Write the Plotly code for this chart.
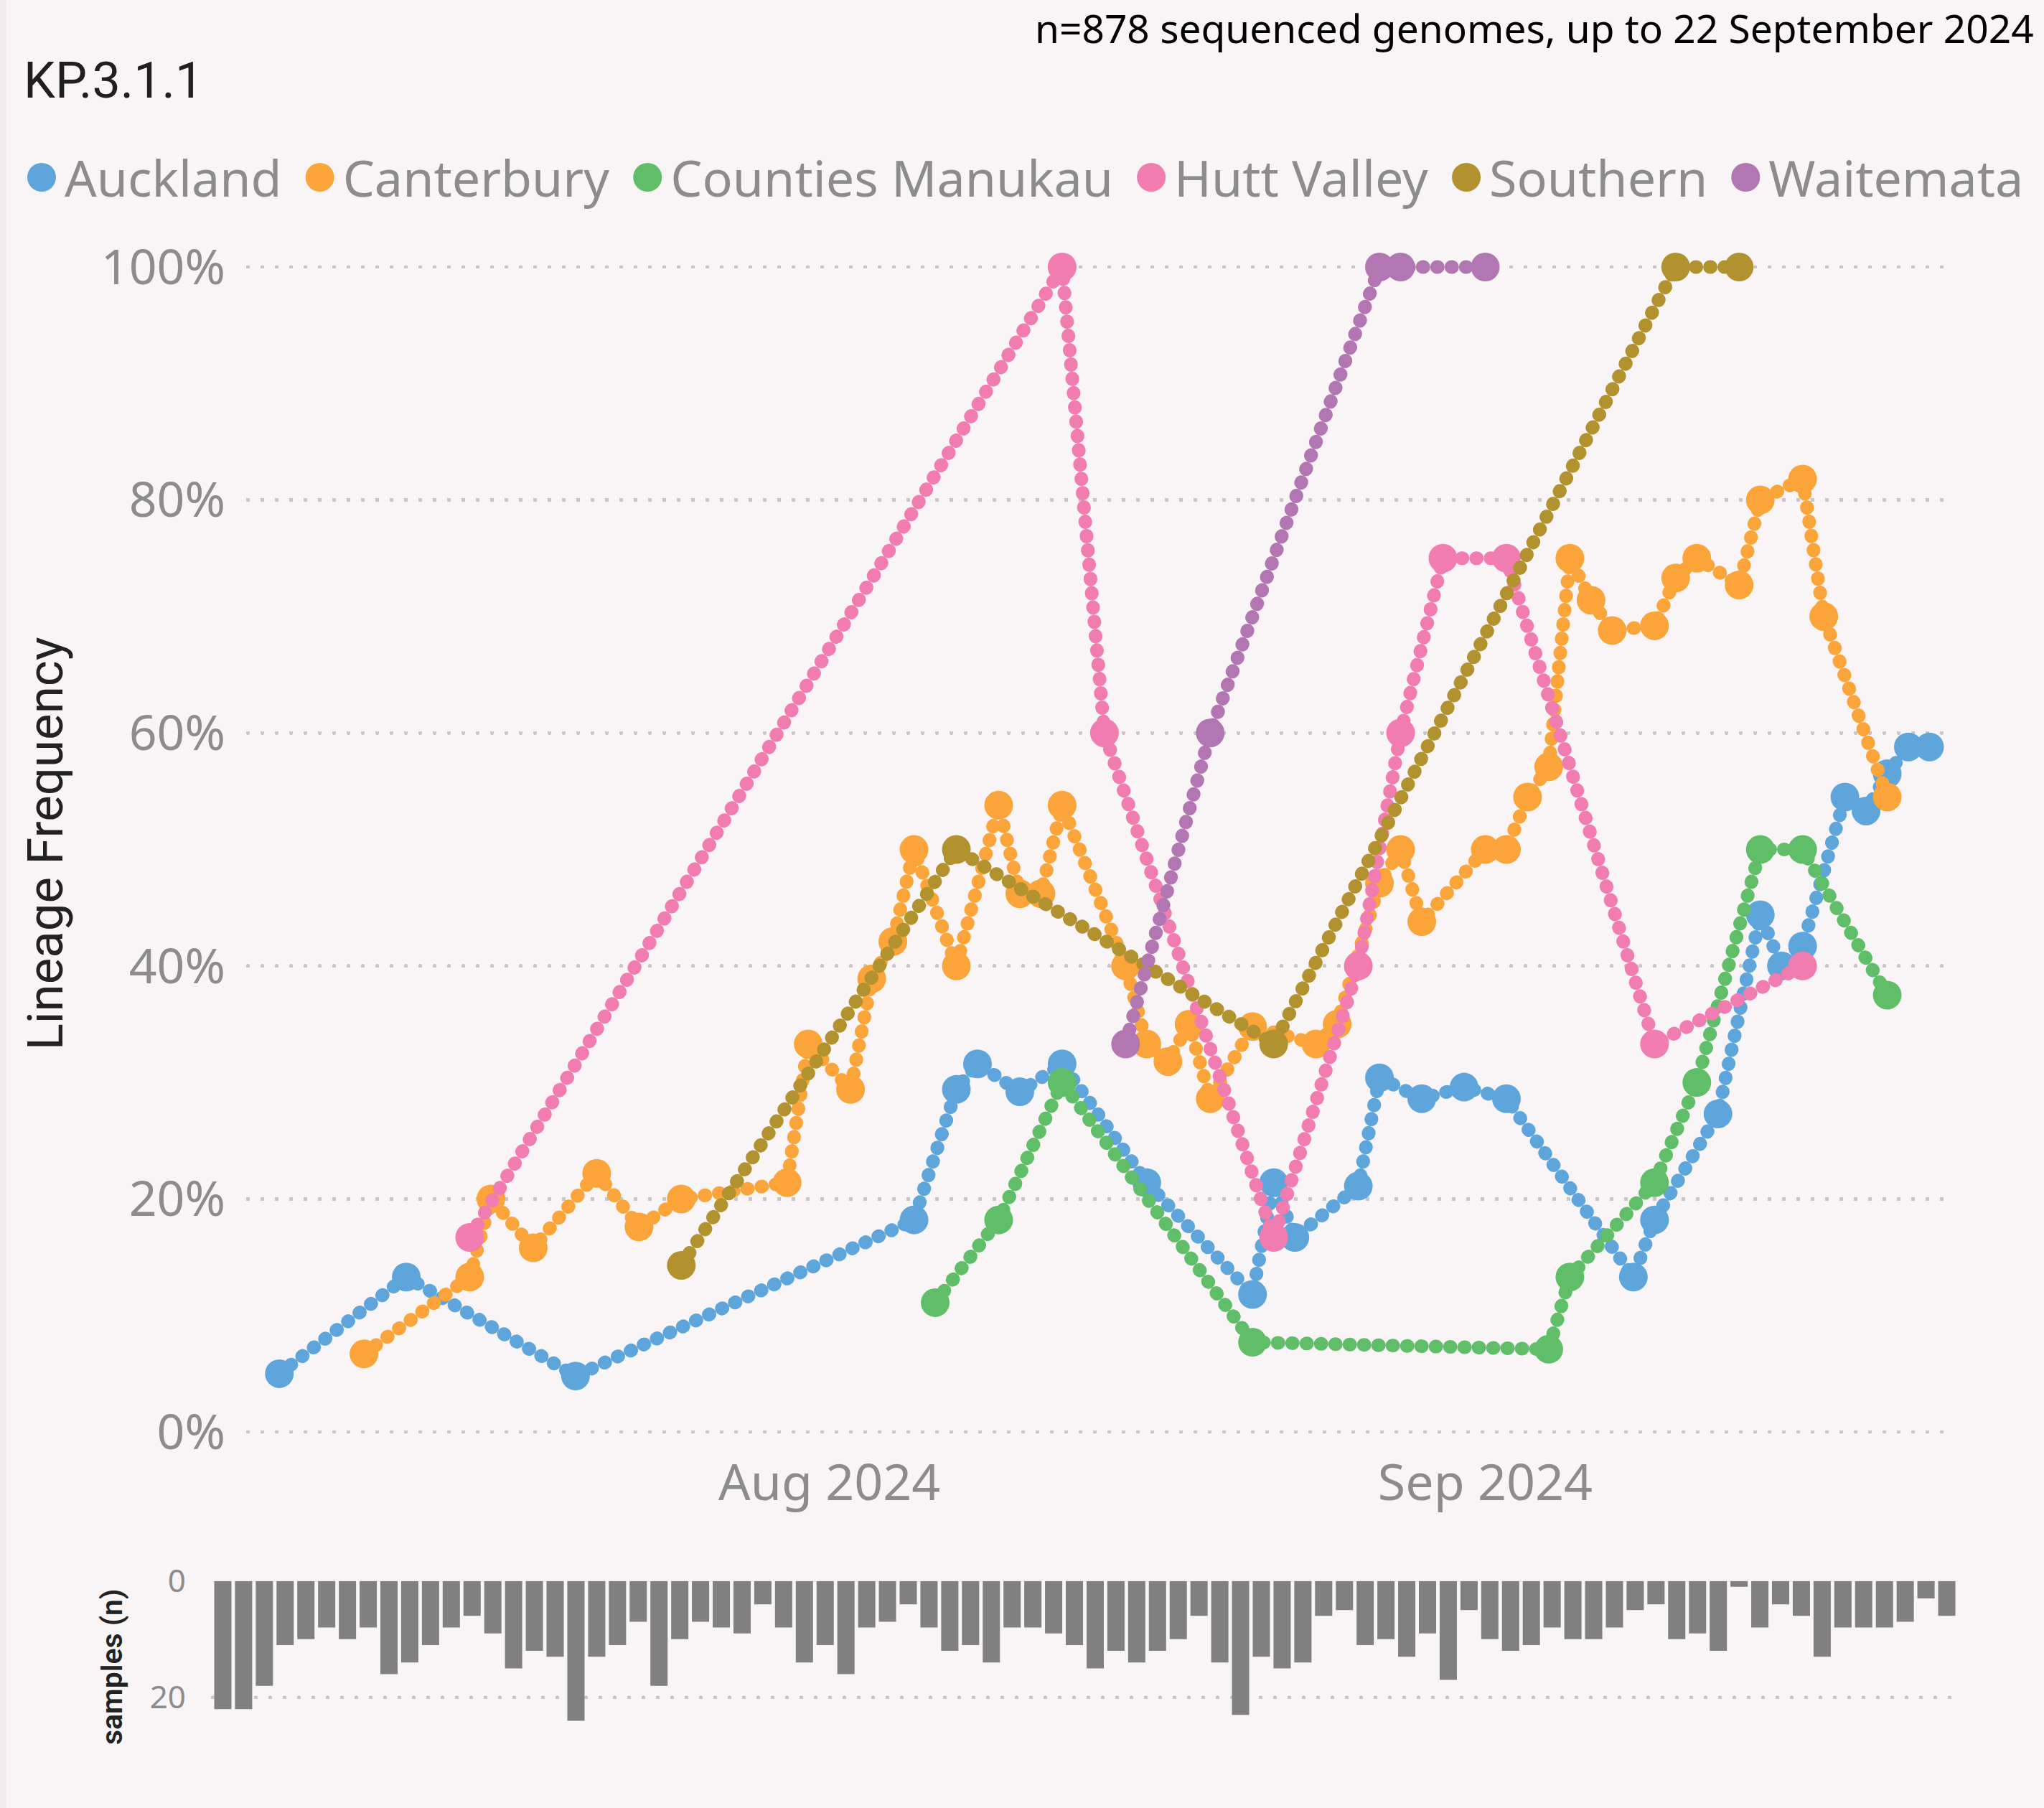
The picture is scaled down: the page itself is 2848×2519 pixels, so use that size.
import plotly.graph_objects as go
import pandas as pd

# ---------------- data ----------------
auckland_dates = ['2024-07-06', '2024-07-12', '2024-07-20', '2024-08-05', '2024-08-07', '2024-08-08',
                  '2024-08-10', '2024-08-12', '2024-08-16', '2024-08-21', '2024-08-22', '2024-08-23',
                  '2024-08-26', '2024-08-27', '2024-08-29', '2024-08-31', '2024-09-02', '2024-09-08',
                  '2024-09-09', '2024-09-12', '2024-09-14', '2024-09-15', '2024-09-16', '2024-09-18',
                  '2024-09-19', '2024-09-20', '2024-09-21', '2024-09-22']
auckland_pct = [5.0, 13.3, 4.8, 18.2, 29.4, 31.6, 29.2, 31.6, 21.4, 11.8, 21.4, 16.7, 21.1, 30.4,
                28.6, 29.6, 28.6, 13.3, 18.2, 27.3, 44.4, 40.0, 41.7, 54.5, 53.3, 56.5, 58.8, 58.8]

canterbury_dates = ['2024-07-10', '2024-07-15', '2024-07-16', '2024-07-18', '2024-07-21', '2024-07-23',
                    '2024-07-25', '2024-07-30', '2024-07-31', '2024-08-02', '2024-08-03', '2024-08-04',
                    '2024-08-05', '2024-08-07', '2024-08-09', '2024-08-10', '2024-08-11', '2024-08-12',
                    '2024-08-15', '2024-08-16', '2024-08-17', '2024-08-18', '2024-08-19', '2024-08-21',
                    '2024-08-24', '2024-08-25', '2024-08-27', '2024-08-28', '2024-08-29', '2024-09-01',
                    '2024-09-02', '2024-09-03', '2024-09-04', '2024-09-05', '2024-09-06', '2024-09-07',
                    '2024-09-09', '2024-09-10', '2024-09-11', '2024-09-13', '2024-09-14', '2024-09-16',
                    '2024-09-17', '2024-09-20']
canterbury_pct = [6.7, 13.3, 20.0, 15.8, 22.2, 17.6, 20.0, 21.4, 33.3, 29.4, 38.9, 42.1, 50.0, 40.0,
                  53.8, 46.2, 46.2, 53.8, 40.0, 33.3, 31.8, 35.0, 28.6, 34.8, 33.3, 35.0, 47.1, 50.0,
                  43.8, 50.0, 50.0, 54.5, 57.1, 75.0, 71.4, 68.8, 69.2, 73.3, 75.0, 72.7, 80.0, 81.8,
                  70.0, 54.5]

counties_dates = ['2024-08-06', '2024-08-09', '2024-08-12', '2024-08-21', '2024-09-04', '2024-09-05',
                  '2024-09-09', '2024-09-11', '2024-09-14', '2024-09-16', '2024-09-20']
counties_pct = [11.1, 18.2, 30.0, 7.7, 7.1, 13.3, 21.4, 30.0, 50.0, 50.0, 37.5]

hutt_dates = ['2024-07-15', '2024-08-12', '2024-08-14', '2024-08-22', '2024-08-26', '2024-08-28',
              '2024-08-30', '2024-09-02', '2024-09-09', '2024-09-16']
hutt_pct = [16.7, 100.0, 60.0, 16.7, 40.0, 60.0, 75.0, 75.0, 33.3, 40.0]

southern_dates = ['2024-07-25', '2024-08-07', '2024-08-22', '2024-09-10', '2024-09-13']
southern_pct = [14.3, 50.0, 33.3, 100.0, 100.0]

waitemata_dates = ['2024-08-15', '2024-08-19', '2024-08-27', '2024-08-28', '2024-09-01']
waitemata_pct = [33.3, 60.0, 100.0, 100.0, 100.0]

series_names = ['Auckland', 'Canterbury', 'Counties Manukau', 'Hutt Valley', 'Southern', 'Waitemata']
series_colors = ['#5DA5DA', '#FAA43A', '#60BD68', '#F17CB0', '#B2912F', '#B276B2']
series_dates = [auckland_dates, canterbury_dates, counties_dates, hutt_dates, southern_dates, waitemata_dates]
series_values = [auckland_pct, canterbury_pct, counties_pct, hutt_pct, southern_pct, waitemata_pct]

sample_dates = [d.strftime('%Y-%m-%d') for d in pd.date_range('2024-07-01', '2024-09-22', freq='D')]
sample_counts = [22, 22, 18, 11, 10, 8, 10, 8, 16, 14,
                 11, 8, 6, 9, 15, 12, 13, 24, 13, 11,
                 7, 18, 10, 7, 8, 9, 4, 8, 14, 11,
                 16, 8, 7, 4, 8, 12, 11, 14, 8,
                 8, 9, 11, 15, 12, 14, 12, 10, 6, 14,
                 23, 13, 15, 14, 6, 5, 11, 10, 13, 9,
                 17, 5, 10, 12, 11, 8, 10, 10, 8, 5,
                 4, 10, 9, 12, 1, 8, 4, 6, 13, 8,
                 8, 8, 7, 3, 6]

y_ticks = [0, 20, 40, 60, 80, 100]
y_tick_labels = ['0%', '20%', '40%', '60%', '80%', '100%']
bar_ticks = [0, 20]
bar_tick_labels = ['0', '20']

# ---------------- layout helpers ----------------
W, H = 2848, 2519
ML, MR, MT, MB = 10, 5, 300, 60
PW = W - ML - MR
PH = H - MT - MB


def fx(px):
    return (px - ML) / PW


def fy(py):
    return (H - MB - py) / PH


BG = '#f9f5f6'
GRID = '#c9c6c7'
TICK = '#8c8c8c'
BODY_FONT = 'Noto Sans'
HEAD_FONT = 'Roboto'

fig = go.Figure()

for name, color, xs, ys in zip(series_names, series_colors, series_dates, series_values):
    fig.add_trace(go.Scatter(
        x=xs, y=ys, mode='lines', name=name, legendgroup=name, showlegend=False,
        line=dict(color=color, width=19, dash='1px,19px'), hoverinfo='skip',
        xaxis='x', yaxis='y'))
    fig.add_trace(go.Scatter(
        x=xs, y=ys, mode='markers', name=name, legendgroup=name, showlegend=True,
        marker=dict(color=color, size=40, line=dict(width=0)), cliponaxis=False,
        xaxis='x', yaxis='y'))

fig.add_trace(go.Bar(
    x=sample_dates, y=sample_counts, marker=dict(color='#808080', line=dict(width=0)),
    showlegend=False, name='samples', xaxis='x2', yaxis='y2'))

fig.update_layout(
    width=W, height=H,
    margin=dict(l=ML, r=MR, t=MT, b=MB, autoexpand=False),
    paper_bgcolor=BG, plot_bgcolor=BG,
    bargap=0.17,
    title=dict(text='KP.3.1.1', font=dict(family=HEAD_FONT, size=70, color='#1f1f1f'),
               xref='container', yref='container', x=33 / W, xanchor='left',
               y=1 - 111 / H, yanchor='middle'),
    legend=dict(orientation='h', xref='container', yref='container', x=10 / W, y=1 - 247 / H,
                xanchor='left', yanchor='middle', itemwidth=70, tracegroupgap=0,
                font=dict(family=BODY_FONT, size=70, color=TICK), bgcolor='rgba(0,0,0,0)'),
    xaxis=dict(domain=[fx(345), fx(2718)], range=['2024-07-04 12:00', '2024-09-23 00:00'],
               type='date', tickformat='%b %Y', dtick='M1', tick0='2024-08-01',
               showgrid=False, zeroline=False, showline=False, ticks='', ticklabelstandoff=-9,
               tickfont=dict(family=BODY_FONT, size=70, color=TICK), anchor='y'),
    yaxis=dict(domain=[fy(2027.5), fy(323.3)], range=[-2, 103], tickmode='array',
               tickvals=y_ticks, ticktext=y_tick_labels,
               showgrid=True, gridcolor=GRID, gridwidth=5, griddash='1px,19px',
               zeroline=False, showline=False, ticks='', ticklabelstandoff=30,
               tickfont=dict(family=BODY_FONT, size=68, color=TICK),
               title=dict(text='Lineage Frequency', standoff=30,
                          font=dict(family=HEAD_FONT, size=69, color='#222222')),
               anchor='x'),
    xaxis2=dict(domain=[fx(296), fx(2727)], range=['2024-06-30 12:00', '2024-09-22 12:00'],
                type='date', showticklabels=False, showgrid=False, zeroline=False,
                showline=False, ticks='', anchor='y2'),
    yaxis2=dict(domain=[fy(2442), fy(2202.7)], range=[29.5, 0], tickmode='array',
                tickvals=bar_ticks, ticktext=bar_tick_labels,
                showgrid=True, gridcolor=GRID, gridwidth=5, griddash='1px,19px',
                zeroline=False, showline=False, ticks='', ticklabelstandoff=36,
                tickfont=dict(family=BODY_FONT, size=44, color=TICK),
                title=dict(text='samples (n)', standoff=25,
                           font=dict(family=HEAD_FONT, size=41, color='#222222', weight=600)),
                anchor='x2'),
    annotations=[dict(text='n=878 sequenced genomes, up to 22 September 2024',
                      xref='paper', yref='paper', x=fx(2836), y=fy(38),
                      xanchor='right', yanchor='middle', showarrow=False,
                      font=dict(family=BODY_FONT, size=55, color='#000000'))],
    shapes=[dict(type='rect', xref='paper', yref='paper', x0=fx(0), x1=fx(9),
                 y0=fy(H), y1=fy(0), fillcolor='#f3eaec', line=dict(width=0), layer='below')],
)

post = """
var gd = document.getElementById('{plot_id}');
document.body.style.margin = '0';
var st = document.createElement('style');
st.textContent = '.scatterlayer .js-line{stroke-linecap:round !important;} .gridlayer path{stroke-linecap:round !important;}';
document.head.appendChild(st);
function fixLegend(){
  gd.querySelectorAll('.legend .legendpoints path.scatterpts').forEach(function(p){
    var t = p.getAttribute('transform') || '';
    if (t.indexOf('scale') < 0) p.setAttribute('transform', t + ' translate(8,0) scale(2.5)');
  });
}
fixLegend();
gd.on('plotly_afterplot', fixLegend);
"""

fig.write_html("out.html", post_script=post, config={'displayModeBar': False})
